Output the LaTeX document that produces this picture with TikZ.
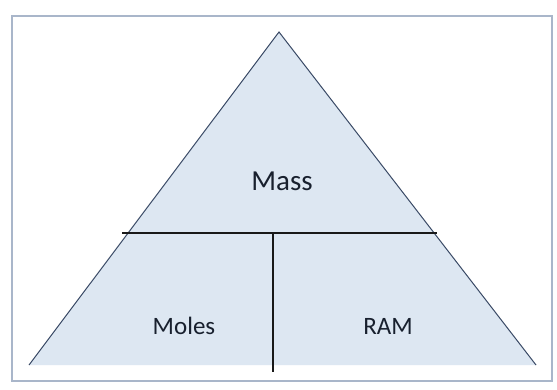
\documentclass[tikz,border=0pt]{standalone}
\usepackage{fontspec}
\setmainfont{Carlito}
\definecolor{fillblue}{HTML}{DDE7F2}
\definecolor{framecol}{HTML}{A9B6CA}
\definecolor{txt}{HTML}{18202E}
\definecolor{edge}{HTML}{3A4A66}
\begin{document}
\begin{tikzpicture}[x=1pt,y=-1pt,
  lbl/.style={text=txt,inner sep=0pt},
  divider/.style={draw=black!90,line width=2.8pt}]
\useasboundingbox (0,0) rectangle (557,390);
\fill[white] (0,0) rectangle (557,390);
\draw[framecol,line width=2pt] (12,16) rectangle (552,381);
\coordinate (apex) at (279,32);
\coordinate (bl) at (29,365);
\coordinate (br) at (536,365);
\fill[fillblue] (apex) -- (bl) -- (br) -- cycle;
\draw[edge,line width=1pt] (bl) -- (apex) -- (br);
\coordinate (hl) at (122,233);
\coordinate (hr) at (437,233);
\coordinate (vt) at (273,233);
\coordinate (vb) at (273,372);
\draw[divider] (hl) -- (hr);
\draw[divider,line width=2.4pt] (vt) -- (vb);
\node[lbl,font=\fontsize{29}{32}\selectfont] (mass) at (282,181) {Mass};
\node[lbl,font=\fontsize{25}{28}\selectfont] (moles) at (184,326) {Moles};
\node[lbl,font=\fontsize{25}{28}\selectfont] (ram) at (388,326) {RAM};
\end{tikzpicture}
\end{document}
